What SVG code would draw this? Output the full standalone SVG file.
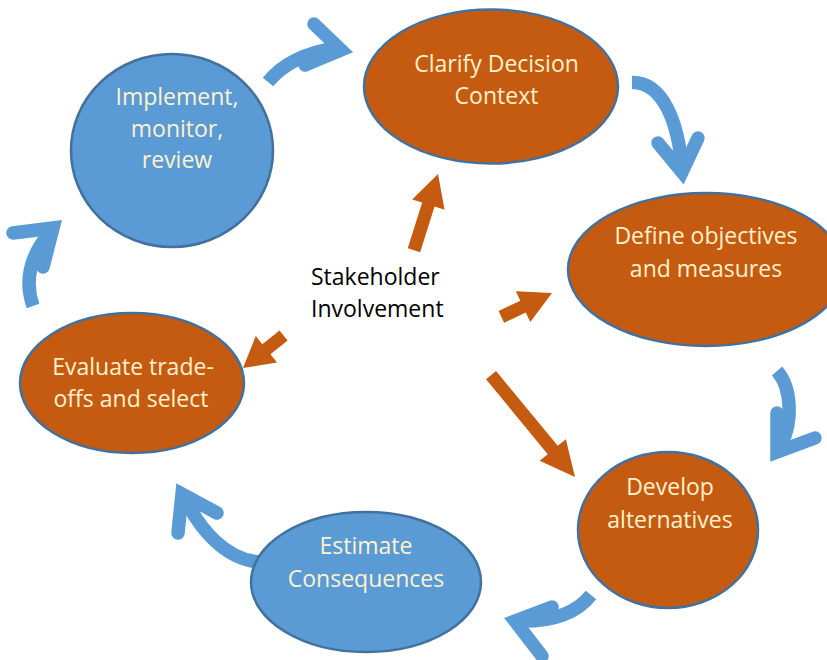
<svg xmlns="http://www.w3.org/2000/svg" width="827" height="660" viewBox="0 0 827 660">
<style>
.bg{fill:#ffffff}
.orange{fill:#C55A11;stroke:#41719C;stroke-width:2.5}
.blue{fill:#5B9BD5;stroke:#41719C;stroke-width:2.5}
.lbl{font-family:"Open Sans","Liberation Sans",sans-serif;font-size:23px;fill:#FFF2CC;text-anchor:middle}
.center{font-family:"Open Sans","Liberation Sans",sans-serif;font-size:23px;fill:#000000;text-anchor:start}
.shaft{fill:none;stroke:#5B9BD5;stroke-width:13.5;stroke-linecap:butt}
.head{fill:none;stroke:#5B9BD5;stroke-width:13.5;stroke-linecap:round;stroke-linejoin:miter;stroke-miterlimit:10}
.blk{fill:#C55A11}
</style>
<rect class="bg" x="0" y="0" width="827" height="660"/>
<g id="connectors">
<path class="shaft" d="M268 82 Q290 55 336 48"/>
<path class="head" d="M314 24 L341 50 L305 65"/>
<path class="shaft" d="M632 82.5 C662 82 678 120 682 168"/>
<path class="head" d="M658 143 L682 172 L698 138"/>
<path class="shaft" d="M777 371 C792 388 794 425 778 450"/>
<path class="head" d="M777 413 L777 452 L815 438"/>
<path class="shaft" d="M591 595 C576 614 552 622 518 621"/>
<path class="head" d="M552 607 L515 621 L542 656"/>
<path class="shaft" d="M260 562 C226 560 200 530 184 497"/>
<path class="head" d="M178 533 L182 494 L217 513"/>
<path class="shaft" d="M33 306 C24 280 30 255 52 230"/>
<path class="head" d="M13 233 L53 228 L43 267"/>
<g class="blk">
<polygon points="-80,-6.5 -32,-6.5 -32,-17 0,0 -32,17 -32,6.5 -80,6.5" transform="translate(438 174) rotate(-72.5)"/>
<polygon points="-56,-6.5 -32,-6.5 -32,-17 0,0 -32,17 -32,6.5 -56,6.5" transform="translate(552 293) rotate(-25.2)"/>
<polygon points="-52,-6.5 -30,-6.5 -30,-17 0,0 -30,17 -30,6.5 -52,6.5" transform="translate(243 368) rotate(141.3)"/>
<polygon points="-132,-6.5 -35,-6.5 -35,-17 0,0 -35,17 -35,6.5 -132,6.5" transform="translate(575 477) rotate(50.5)"/>
</g>
</g>
<g id="node-clarify">
<ellipse class="orange" cx="491" cy="86.5" rx="127" ry="77"/>
<text class="lbl" x="496.5" y="72">Clarify Decision</text>
<text class="lbl" x="496.5" y="104">Context</text>
</g>
<g id="node-define">
<ellipse class="orange" cx="706" cy="269.5" rx="138" ry="76.5"/>
<text class="lbl" x="706" y="244">Define objectives</text>
<text class="lbl" x="706" y="277">and measures</text>
</g>
<g id="node-develop">
<ellipse class="orange" cx="668" cy="530" rx="90" ry="78"/>
<text class="lbl" x="670" y="495">Develop</text>
<text class="lbl" x="670" y="528">alternatives</text>
</g>
<g id="node-estimate">
<ellipse class="blue" cx="366" cy="582" rx="115" ry="70"/>
<text class="lbl" x="366" y="554">Estimate</text>
<text class="lbl" x="366" y="587">Consequences</text>
</g>
<g id="node-evaluate">
<ellipse class="orange" cx="132" cy="383" rx="112" ry="70"/>
<text class="lbl" x="133" y="375">Evaluate trade-</text>
<text class="lbl" x="131" y="407">offs and select</text>
</g>
<g id="node-implement">
<ellipse class="blue" cx="172" cy="150.5" rx="101" ry="96.5"/>
<text class="lbl" x="177" y="105">Implement,</text>
<text class="lbl" x="177" y="137">monitor,</text>
<text class="lbl" x="177" y="168">review</text>
</g>
<g id="node-stakeholder">
<text class="center" x="311" y="285">Stakeholder</text>
<text class="center" x="311" y="317">Involvement</text>
</g>
</svg>
